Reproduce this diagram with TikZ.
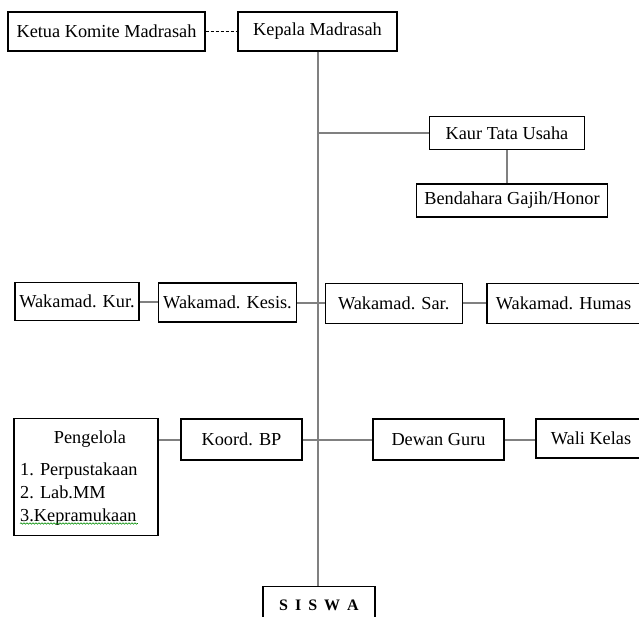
\documentclass[tikz,border=0pt]{standalone}
\usepackage{fontspec}
\setmainfont{Liberation Serif}
\usetikzlibrary{decorations.pathmorphing}

\begin{document}
\begin{tikzpicture}[x=1pt, y=-1pt, font=\fontsize{18.3}{21}\selectfont,
    box/.style={draw, line width=1.1pt, inner sep=0pt},
    link/.style={draw=black!50, line width=2pt}]
    \useasboundingbox (0,0) rectangle (639,617);
    % pimpinan
    \node[box, minimum width=197pt, minimum height=39pt] (komite) at (106.5,31.5) {Ketua Komite Madrasah};
    \node[box, minimum width=159pt, minimum height=39pt] (kepala) at (317.5,31.5) {Kepala Madrasah};
    \node[box, minimum width=155pt, minimum height=33pt] (kaur) at (507,133) {Kaur Tata Usaha};
    \node[box, minimum width=191pt, minimum height=33pt] (bendahara) at (512,200.5) {Bendahara Gajih/Honor};
    % wakamad
    \node[box, minimum width=124pt, minimum height=38pt] (kur) at (77,301.5) {Wakamad. Kur.};
    \node[box, minimum width=138pt, minimum height=39pt] (kesis) at (227.5,302.5) {Wakamad. Kesis.};
    \node[box, minimum width=137pt, minimum height=40pt] (sar) at (393.7,303.3) {Wakamad. Sar.};
    \node[box, minimum width=153pt, minimum height=40pt] (humas) at (563.5,303.3) {Wakamad. Humas};
    % pengelola dan guru
    \node[box, minimum width=144pt, minimum height=117pt] (pengelola) at (86,477.3) {};
    \node[inner sep=0pt] (pengTitle) at (90,439) {Pengelola};
    \node[inner sep=0pt, anchor=west, align=left, font=\fontsize{18.3}{23}\selectfont] (pengList) at (20,494)
        {1. Perpustakaan\\2. Lab.MM\\3.Kepramukaan};
    \node[box, minimum width=121pt, minimum height=41pt] (koord) at (241.5,439.5) {Koord. BP};
    \node[box, minimum width=131pt, minimum height=41pt] (dewan) at (438.5,439.5) {Dewan Guru};
    \node[box, minimum width=110pt, minimum height=39pt] (wali) at (591,438.5) {Wali Kelas};
    \node[box, minimum width=112pt, minimum height=38pt, anchor=north,
        font=\fontsize{16}{18}\selectfont\bfseries] (siswa) at (319,585.7)
        {S\hspace{7pt}I\hspace{7pt}S\hspace{7pt}W\hspace{7pt}A};

    \draw[dashed, line width=0.8pt, dash pattern=on 3pt off 2pt] (komite.east) -- (kepala.west);
    \draw[link] (kepala.south) -- (kepala.south |- siswa.north);
    \draw[link] (kepala.south |- kaur.west) -- (kaur.west);
    \draw[link] (kaur.south) -- (kaur.south |- bendahara.north);
    \draw[link] (kur.east) -- (kur.east -| kesis.west);
    \draw[link] (kesis.east) -- (kesis.east -| sar.west);
    \draw[link] (sar.east) -- (sar.east -| humas.west);
    \draw[link] (koord.west -| pengelola.east) -- (koord.west);
    \draw[link] (koord.east) -- (dewan.west);
    \draw[link] (dewan.east) -- (dewan.east -| wali.west);
    % garis ejaan
    \draw[green!55!black, line width=0.6pt, decorate, decoration={snake, amplitude=0.7pt, segment length=3pt}]
        ([yshift=2pt]pengList.south west) -- ([yshift=2pt]pengList.south east);
\end{tikzpicture}
\end{document}
